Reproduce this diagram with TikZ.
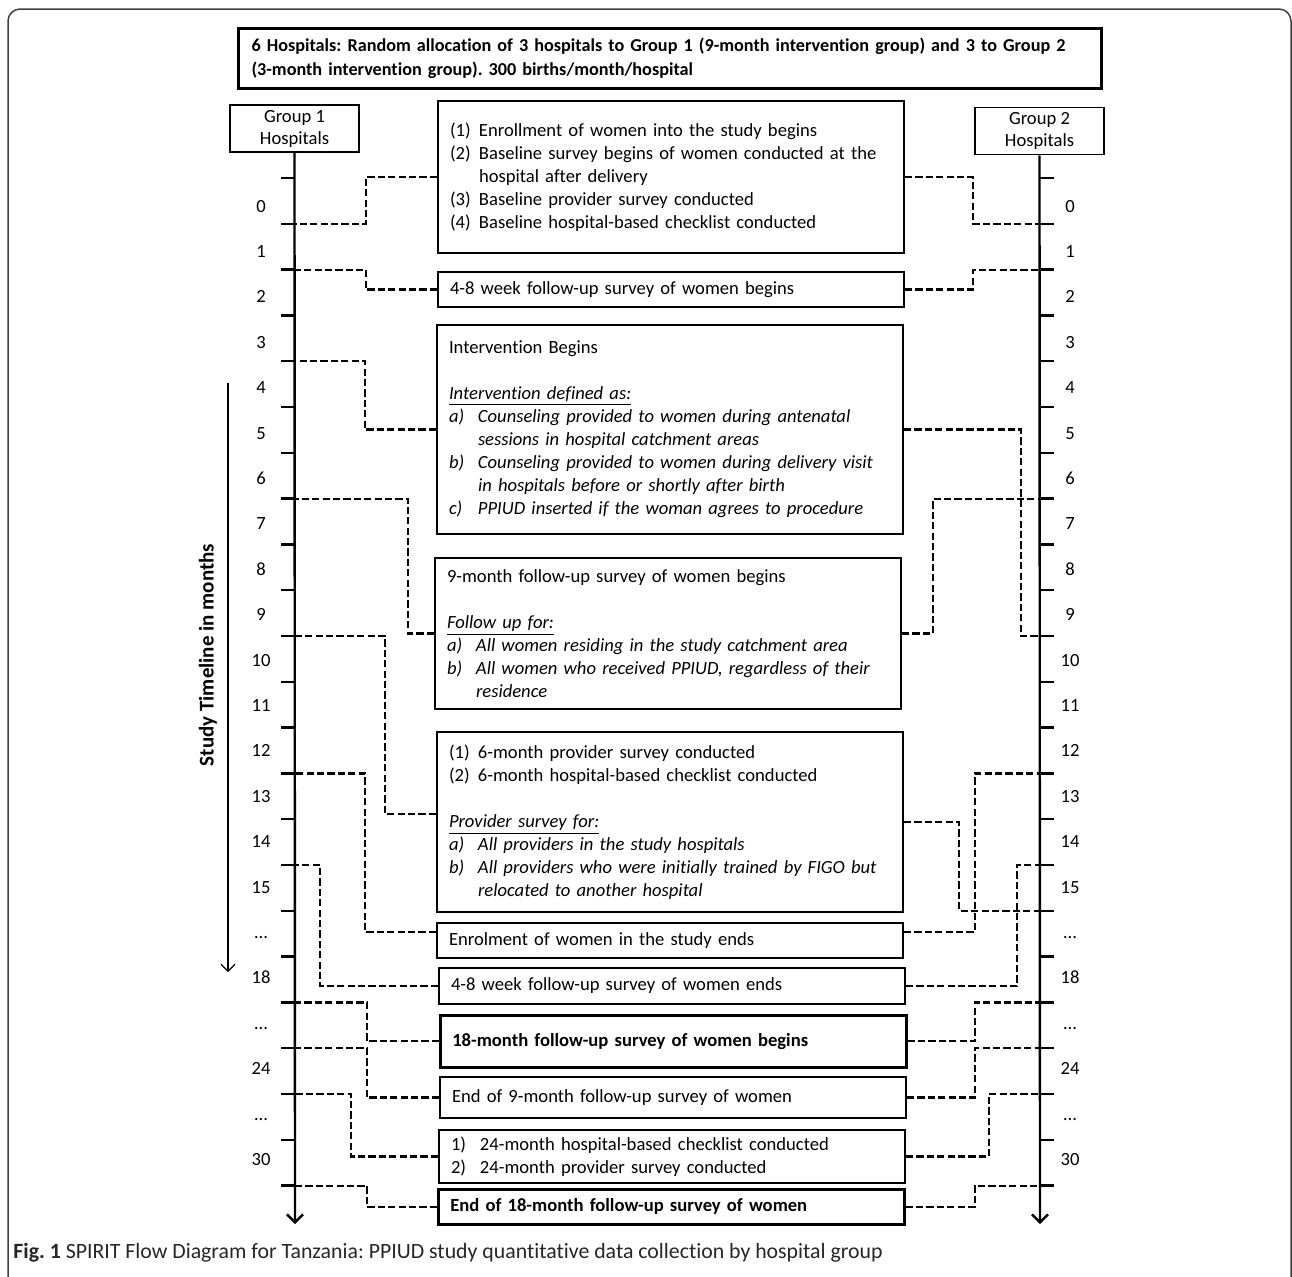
\documentclass[tikz,border=0pt]{standalone}
\usepackage{fontspec}
\setmainfont{Carlito}[Ligatures=NoCommon]
\usepackage{tikz}
\usetikzlibrary{arrows.meta}
\frenchspacing

\tikzset{
  stage/.style={draw, line width=1pt, anchor=north west, align=left, text width=221pt,
    inner xsep=6pt, font=\fontsize{9.3}{11.5}\selectfont},
  grpbox/.style={draw, line width=0.8pt, align=center, minimum width=64.5pt,
    minimum height=23.5pt, inner sep=1pt, font=\fontsize{9.3}{11}\selectfont},
  dashline/.style={dash pattern=on 3.6pt off 1.6pt, line width=1.1pt},
  month/.style={font=\fontsize{9.3}{11}\selectfont, text height=6pt, text depth=0pt, inner sep=0pt},
  axisline/.style={line width=1.2pt, -{Straight Barb[length=4pt,width=8pt]}},
  tick/.style={line width=1.2pt}
}
\newcommand{\lab}[1]{\makebox[14.5pt][l]{#1}}
\newcommand{\cont}{\hspace*{14.5pt}}

\begin{document}
\begin{tikzpicture}[x=0.5pt,y=-0.5pt]
\useasboundingbox (0,0) rectangle (1292,1276);
\draw[line width=0.75pt, black!75, rounded corners=6pt] (8,1290) -- (8,9) -- (1291,9) -- (1291,1290);

\node[stage, line width=1.5pt, minimum height=30pt, text width=418.5pt, inner xsep=6.5pt,
  font=\bfseries\fontsize{9.1}{12}\selectfont] (alloc) at (237,27)
  {\mbox{6 Hospitals: Random allocation of 3 hospitals to Group 1 (9-month intervention group) and 3 to Group 2}\\
   (3-month intervention group). 300 births/month/hospital};

\node[grpbox] (g1) at (294.5,128.5) {Group 1\\Hospitals};
\node[grpbox] (g2) at (1039.5,131) {Group 2\\Hospitals};

\coordinate (g1end) at (295,1224);
\coordinate (g2end) at (1040,1224);
\draw[axisline] (g1.south) -- (g1end);
\draw[axisline] (g2.south) -- (g2end);

\foreach \k in {0,...,22}{
  \coordinate (l\k) at (281,{178+45.8*\k});
  \coordinate (r\k) at (1054,{178+45.8*\k});
  \draw[tick] (l\k) -- ++(14,0);
  \draw[tick] (r\k) -- ++(-14,0);
}
\foreach \t [count=\i from 0] in {0,1,...,15,\ldots,18,\ldots,24,\ldots,30}{
  \node[month] (ml\i) at (261,{206+45.4*\i}) {\t};
  \node[month] (mr\i) at (1070,{206+45.4*\i}) {\t};
}

\coordinate (tltop) at (228,383);
\coordinate (tlend) at (228,972);
\draw[line width=0.6pt, -{Straight Barb[length=3.5pt,width=7pt]}] (tltop) -- (tlend);
\node[rotate=90, font=\bfseries\fontsize{10.5}{12}\selectfont] (tllabel) at (208,655) {Study Timeline in months};

\node[stage, minimum height=76pt] (enrol) at (437,100)
  {\lab{(1)}Enrollment of women into the study begins\\
   \lab{(2)}Baseline survey begins of women conducted at the\\
   \cont hospital after delivery\\
   \lab{(3)}Baseline provider survey conducted\\
   \lab{(4)}Baseline hospital-based checklist conducted};
\node[stage, minimum height=17.5pt] (fu48) at (437,271) {4-8 week follow-up survey of women begins};
\node[stage, minimum height=104.5pt] (interv) at (436,324)
  {Intervention Begins\\[11.5pt]
   \underline{\textit{Intervention defined as:}}\\
   \lab{\textit{a)}}\textit{Counseling provided to women during antenatal}\\
   \cont\textit{sessions in hospital catchment areas}\\
   \lab{\textit{b)}}\textit{Counseling provided to women during delivery visit}\\
   \cont\textit{in hospitals before or shortly after birth}\\
   \lab{\textit{c)}}\textit{PPIUD inserted if the woman agrees to procedure}};
\node[stage, minimum height=75.5pt] (nine) at (434,557)
  {9-month follow-up survey of women begins\\[11.5pt]
   \underline{\textit{Follow up for:}}\\
   \lab{\textit{a)}}\textit{All women residing in the study catchment area}\\
   \lab{\textit{b)}}\textit{All women who received PPIUD, regardless of their}\\
   \cont\textit{residence}};
\node[stage, minimum height=90pt] (prov) at (436,731)
  {\lab{(1)}6-month provider survey conducted\\
   \lab{(2)}6-month hospital-based checklist conducted\\[11.5pt]
   \underline{\textit{Provider survey for:}}\\
   \lab{\textit{a)}}\textit{All providers in the study hospitals}\\
   \lab{\textit{b)}}\textit{All providers who were initially trained by FIGO but}\\
   \cont\textit{relocated to another hospital}};
\node[stage, minimum height=17.5pt] (ends) at (436,922) {Enrolment of women in the study ends};
\node[stage, minimum height=18pt] (fu48end) at (438,967) {4-8 week follow-up survey of women ends};
\node[stage, line width=1.3pt, minimum height=26pt, font=\bfseries\fontsize{9.3}{11.5}\selectfont] (eighteen) at (439,1014)
  {18-month follow-up survey of women begins};
\node[stage, minimum height=20.5pt] (endnine) at (439,1076) {End of 9-month follow-up survey of women};
\node[stage, minimum height=25pt] (tfour) at (438,1129)
  {\lab{1)}24-month hospital-based checklist conducted\\
   \lab{2)}24-month provider survey conducted};
\node[stage, line width=1.3pt, minimum height=17.5pt, font=\bfseries\fontsize{9.3}{11.5}\selectfont] (endeighteen) at (437,1188)
  {End of 18-month follow-up survey of women};

\draw[dashline] (enrol.west) -- ++(-71,0) |- (l1);
\draw[dashline] (fu48.west) -- ++(-71,0) |- (l2);
\draw[dashline] (interv.west) -- ++(-71,0) |- (l4);
\draw[dashline] (nine.west) -- ++(-26,0) |- (l7);
\draw[dashline] ([yshift=4pt]prov.west) -- ++(-51,0) |- (l10);
\draw[dashline] ([yshift=4.25pt]ends.west) -- ++(-71,0) |- (l13);
\draw[dashline] (fu48end.west) -- ++(-118,0) |- (l15);
\draw[dashline] (eighteen.west) -- ++(-72,0) |- (l18);
\draw[dashline] (endnine.west) -- ++(-72,0) |- (l19);
\draw[dashline] (tfour.west) -- ++(-87,0) |- (l20);
\draw[dashline] (endeighteen.west) -- ++(-70,0) |- (l22);

\draw[dashline] (enrol.east) -- ++(68,0) |- (r1);
\draw[dashline] (fu48.east) -- ++(68,0) |- (r2);
\draw[dashline] (interv.east) -- ++(117,0) |- (r10);
\draw[dashline] (nine.east) -- ++(31,0) |- (r7);
\draw[dashline] (prov.east) -- ++(55,0) |- (r16);
\draw[dashline] ([yshift=4.25pt]ends.east) -- ++(71,0) |- (r13);
\draw[dashline] (fu48end.east) -- ++(111,0) |- (r15);
\draw[dashline] (eighteen.east) -- ++(67,0) |- (r18);
\draw[dashline] (endnine.east) -- ++(68,0) |- (r19);
\draw[dashline] (tfour.east) -- ++(83,0) |- (r20);
\draw[dashline] (endeighteen.east) -- ++(69,0) |- (r22);

\node[anchor=west, inner sep=0pt, font=\fontsize{10.9}{13}\selectfont, text=black!85] (caption) at (13,1253)
  {\textbf{Fig. 1} SPIRIT Flow Diagram for Tanzania: PPIUD study quantitative data collection by hospital group};
\end{tikzpicture}
\end{document}
